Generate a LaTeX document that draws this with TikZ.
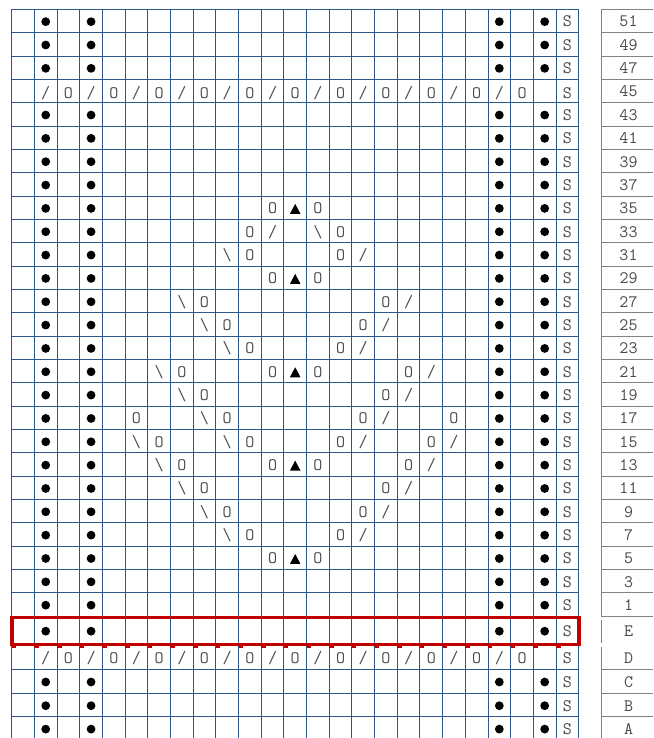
\documentclass[tikz,border=0pt]{standalone}
\usepackage{tikz}
\definecolor{gridblue}{RGB}{45,88,140}
\definecolor{lblgray}{RGB}{130,130,130}
\definecolor{hired}{RGB}{192,0,0}
\definecolor{symgray}{RGB}{75,75,75}
\tikzset{
  gridline/.style={draw=gridblue, line width=0.95pt},
  lblline/.style={draw=lblgray, line width=0.95pt},
  txt/.style={anchor=base, inner sep=0pt, text=symgray, font=\ttfamily\fontsize{17.5}{17.5}\selectfont},
  dot/.style={circle, fill=black, minimum size=8.8pt, inner sep=0pt},
  hibox/.style={draw=hired, line width=3.6pt},
  hitick/.style={draw=hired, line width=1.6pt},
  tri/.style={fill=black},
}
\newcommand\cx[1]{11.7+(#1-0.5)*22.68}
\newcommand\ry[1]{9.3+(#1+0.5)*23.34}
\begin{document}
\begin{tikzpicture}[x=1pt,y=-1pt]
\useasboundingbox (0,0) rectangle (653,738);
\fill[white] (0,0) rectangle (653,738);
% grid
\foreach \i in {0,...,25} \draw[gridline] ({11.7+\i*22.68},9.3) -- ({11.7+\i*22.68},738);
\foreach \k in {0,...,26} \draw[gridline] (11.7,{9.3+\k*23.34}) -- (578.7,{9.3+\k*23.34});
\foreach \yy in {645,669.3,693.3,716.7} \draw[gridline] (11.7,\yy) -- (578.7,\yy);
% label column
\foreach \k in {0,...,26} \draw[lblline] (601,{9.3+\k*23.34}) -- (653,{9.3+\k*23.34});
\foreach \yy in {669.3,693.3,716.7} \draw[lblline] (601,\yy) -- (653,\yy);
\draw[lblline] (601,9.3) -- (601,616.1);
\draw[lblline] (601,620) -- (601,642.7);
\draw[lblline] (601,647.3) -- (601,738);
% highlight
\draw[hibox] (11.7,617.5) rectangle (578.7,644.5);
\foreach \i in {0,...,24} \draw[hitick] ({11.7+\i*22.68},647.2) -- ++(4.5,0);
% standard rows
\foreach \k in {0,1,2,4,5,...,25} {
  \pgfmathsetmacro\yy{\ry{\k}}
  \foreach \c in {2,4,22,24} \node[dot] (d-\k-\c) at ({\cx{\c}},{\yy+0.7}) {};
  \node[txt] (s-\k) at ({\cx{25}},{\yy+6}) {S};
}
\foreach \yy/\nm in {630.5/E,681.3/C,705/B,728.4/A} {
  \foreach \c in {2,4,22,24} \node[dot] (d-\nm-\c) at ({\cx{\c}},{\yy+0.7}) {};
  \node[txt] (s-\nm) at ({\cx{25}},{\yy+6}) {S};
}
% eyelet rows 45 and D
\foreach \yy/\nm in {92.99/r45,657.2/D} {
  \foreach \c in {2,4,...,22} \node[txt] (sl-\nm-\c) at ({\cx{\c}},{\yy+6}) {/};
  \foreach \c in {3,5,...,23} \node[txt] (o-\nm-\c) at ({\cx{\c}},{\yy+6}) {O};
  \node[txt] (s-\nm) at ({\cx{25}},{\yy+6}) {S};
}
% pattern: yarn overs
\foreach \k/\c in {8/12,8/14,9/11,9/15,10/11,10/15,11/12,11/14,12/9,12/17,13/10,13/16,
  14/11,14/15,15/8,15/12,15/14,15/18,16/9,16/17,17/6,17/10,17/16,17/20,
  18/7,18/11,18/15,18/19,19/8,19/12,19/14,19/18,20/9,20/17,21/10,21/16,22/11,22/15,23/12,23/14}
  \node[txt] (p-\k-\c) at ({\cx{\c}},{\ry{\k}+6}) {O};
% pattern: slashes
\foreach \k/\c in {9/12,10/16,12/18,13/17,14/16,15/19,16/18,17/17,18/16,18/20,19/19,20/18,21/17,22/16}
  \node[txt] (q-\k-\c) at ({\cx{\c}},{\ry{\k}+6}) {/};
% pattern: backslashes
\foreach \k/\c in {9/14,10/10,12/8,13/9,14/10,15/7,16/8,17/9,18/6,18/10,19/7,20/8,21/9,22/10}
  \node[txt] (b-\k-\c) at ({\cx{\c}},{\ry{\k}+6}) {\textbackslash};
% pattern: triangles
\foreach \k in {8,11,15,19,23} {
  \pgfmathsetmacro\yy{\ry{\k}}
  \pgfmathsetmacro\xx{\cx{13}}
  \fill[tri] ({\xx-5.3},{\yy+6.2}) -- ({\xx+5.3},{\yy+6.2}) -- (\xx,{\yy-3.8}) -- cycle;
}
% row labels
\foreach \k in {0,...,25} {
  \pgfmathtruncatemacro\lab{51-2*\k}
  \node[txt] (lab-\k) at (628.5,{\ry{\k}+6}) {\lab};
}
\foreach \yy/\nm in {630.5/E,657.2/D,681.3/C,705/B,728.4/A}
  \node[txt] (lab-\nm) at (628.5,{\yy+6}) {\nm};
\end{tikzpicture}
\end{document}
